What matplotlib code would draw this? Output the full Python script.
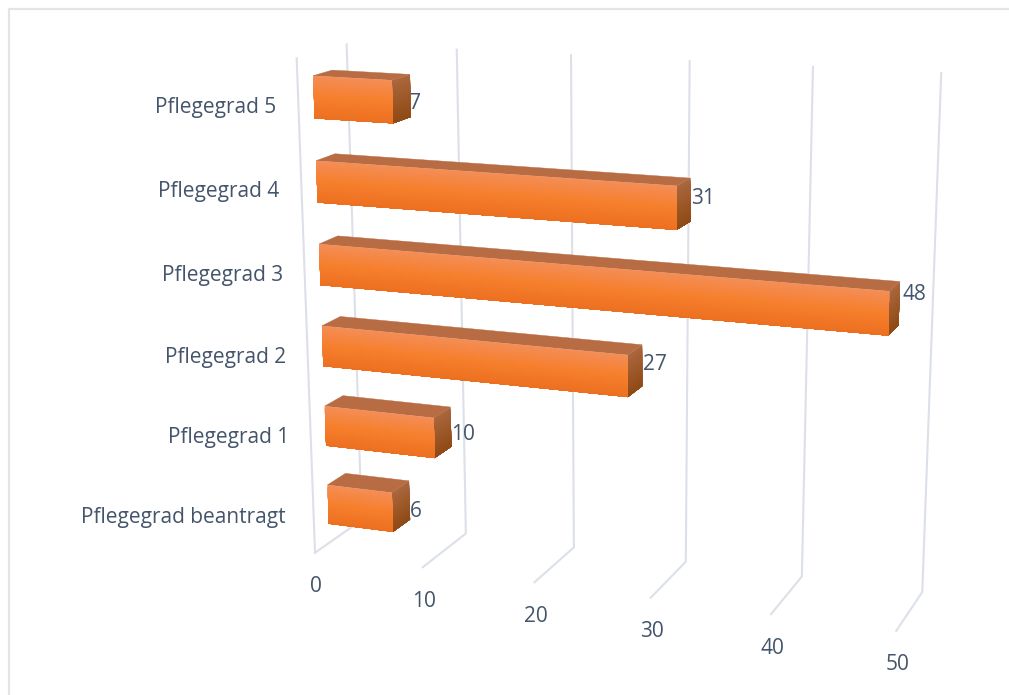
import numpy as np
import matplotlib
matplotlib.use("Agg")
import matplotlib.pyplot as plt
from matplotlib.colors import to_rgb
from matplotlib.lines import Line2D

categories = ["Pflegegrad beantragt", "Pflegegrad 1", "Pflegegrad 2",
              "Pflegegrad 3", "Pflegegrad 4", "Pflegegrad 5"]
values = [6, 10, 27, 48, 31, 7]
ticks = [0, 10, 20, 30, 40, 50]

# ---- layout: perspective calibration (world -> figure pixels) ----
WALL_REF = [
    (0, 0, 0, 315, 553), (10, 0, 0, 423, 567), (50, 0, 0, 896, 631),
    (0, 1, 0, 296.7, 58),
    (0, 0, 1, 361, 520), (10, 0, 1, 466, 533), (20, 0, 1, 574, 547), (30, 0, 1, 686, 562),
    (40, 0, 1, 803, 577), (50, 0, 1, 921.3, 592),
    (0, 1, 1, 346.5, 45), (10, 1, 1, 456.7, 50), (20, 1, 1, 571, 55), (30, 1, 1, 690, 60),
    (40, 1, 1, 813, 67), (50, 1, 1, 941, 73),
]
BAR_REF = [
    (0, .5, 0, 327.3, 485), (0, 0, 0, 328.7, 523.3), (6, 0, 0, 392.7, 531.7), (6, .5, 0, 391, 492.7),
    (0, .5, 1, 346, 473.3), (6, .5, 1, 409, 480.7), (6, 0, 1, 410, 519.3),
    (0, 5.5, 0, 313.3, 76), (0, 5, 0, 314.5, 118.3), (7, 5, 0, 392.7, 123.3), (7, 5.5, 0, 392.5, 80.7),
    (0, 5.5, 1, 331.7, 70), (7, 5.5, 1, 410, 74), (7, 5, 1, 411, 116.7),
    (48, 3.5, 0, 889.3, 291.7), (48, 3, 0, 888.3, 336), (48, 3.5, 1, 899.7, 282.3), (48, 3, 1, 899, 325.7),
    (0, 3.5, 0, 319, 244), (0, 3, 0, 320.5, 285.3), (0, 3.5, 1, 337.7, 235.7),
    (31, 4.5, 0, 676.7, 185), (31, 4, 0, 676.3, 230), (31, 4.5, 1, 690.3, 178.3), (31, 4, 1, 690.3, 221.7),
    (0, 4.5, 0, 316, 161), (0, 4, 0, 317.5, 202.3), (0, 4.5, 1, 335, 153.7),
    (27, 2, 0, 628, 397), (27, 2.5, 0, 628, 352), (0, 2.5, 0, 322.5, 326), (0, 2, 0, 323, 366),
    (10, 1, 0, 435, 458), (0, 1.5, 0, 325.5, 407), (0, 1, 0, 326, 447),
]
BAR_HEIGHT = 0.5
CAT_LABEL_RIGHT = [286, 289, 286, 283, 279, 276]
CAT_LABEL_Y = [517, 438, 357, 275, 191, 107]
DATA_LABEL_DX = [0, 0, 1, 3, 1, -1]
DATA_LABEL_DY = [11, 8, -1, -9, -1, 8]
TICK_LABEL_DY = 34

TEXT = "#44546A"
GRID = "#DCE0E8"
FRAME = "#E1E5E9"
FONT = "Open Sans"
FONT_SIZE = 15


def fit_camera(refs):
    s = np.array([50.0, 6.0, 1.0, 1000.0])
    rows = []
    for v, c, d, x, y in refs:
        w = np.array([v / s[0], c / s[1], d / s[2], 1.0])
        x, y = x / s[3], y / s[3]
        rows.append(np.r_[w, np.zeros(4), -x * w])
        rows.append(np.r_[np.zeros(4), w, -y * w])
    P = np.linalg.svd(np.array(rows))[2][-1].reshape(3, 4)

    def project(v, c, d):
        p = P @ np.array([v / s[0], c / s[1], d / s[2], 1.0])
        return p[0] / p[2] * s[3], p[1] / p[2] * s[3]
    return project


wall = fit_camera(WALL_REF)
bar = fit_camera(BAR_REF)

fig = plt.figure(figsize=(10.09, 6.95), dpi=100)
ax = fig.add_axes([0, 0, 1, 1])
ax.set_xlim(0, 1009)
ax.set_ylim(695, 0)
ax.axis("off")

# frame
ax.add_line(Line2D([9, 9, 1009], [695, 8.5, 8.5], color=FRAME, lw=1.6, zorder=1))

# gridlines
for t in ticks:
    pts = [wall(t, 0, 0), wall(t, 0, 1), wall(t, 1, 1)]
    ax.plot(*zip(*pts), color=GRID, lw=1.5, zorder=2, solid_joinstyle="miter")
    x, y = wall(t, 0, 0)
    ax.text(x + 1, y + TICK_LABEL_DY, str(t), color=TEXT, fontsize=FONT_SIZE, family=FONT,
            ha="center", va="center", zorder=3)
ax.plot(*zip(wall(0, 1, 0), wall(0, 0, 0)), color=GRID, lw=1.5, zorder=2)

# category labels
for name, xr, y in zip(categories, CAT_LABEL_RIGHT, CAT_LABEL_Y):
    ax.text(xr, y, name, color=TEXT, fontsize=FONT_SIZE, family=FONT, ha="right", va="center", zorder=3)


def lerp(a, b, t):
    return tuple((1 - t) * np.array(to_rgb(a)) + t * np.array(to_rgb(b)))


def front_colour(t):
    # t = 0 top, 1 bottom
    if t < 0.5:
        return lerp("#F48E58", "#F67F2C", t / 0.5)
    return lerp("#F67F2C", "#EC7020", (t - 0.5) / 0.5)


def gradient_face(corner, n, colour_fn, zorder):
    # corner(u) returns (a, b) endpoints at u=0 (top) .. 1 (bottom);
    # each layer covers all the way down, so no seams appear between layers
    a1, b1 = corner(1.0)
    for k in range(n):
        u0 = k / n
        a0, b0 = corner(u0)
        ax.fill([a0[0], b0[0], b1[0], a1[0]], [a0[1], b0[1], b1[1], a1[1]],
                facecolor=colour_fn((k + 0.5) / n), edgecolor="none", zorder=zorder)


for i, val in enumerate(values):
    lo, hi = i, i + BAR_HEIGHT
    # data label below the bar so that the bar clips it, as in the reference
    x, y = bar(val, (lo + hi) / 2, 1)
    ax.text(x + DATA_LABEL_DX[i], y + DATA_LABEL_DY[i], str(val), color=TEXT, fontsize=FONT_SIZE,
            family=FONT, ha="left", va="center", zorder=4)
    # top face
    tp = [bar(0, hi, 0), bar(val, hi, 0), bar(val, hi, 1), bar(0, hi, 1)]
    ax.fill(*zip(*tp), facecolor="#B76C43", edgecolor="#B76C43", lw=0.3, zorder=5)
    # right side
    gradient_face(lambda u: (bar(val, hi + (lo - hi) * u, 0), bar(val, hi + (lo - hi) * u, 1)),
                  30, lambda t: lerp("#AB673E", "#904A15", t), 5)
    # front face
    gradient_face(lambda u: (bar(0, hi + (lo - hi) * u, 0), bar(val, hi + (lo - hi) * u, 0)),
                  40, front_colour, 6)

fig.savefig("out.png", dpi=100, facecolor="white")
